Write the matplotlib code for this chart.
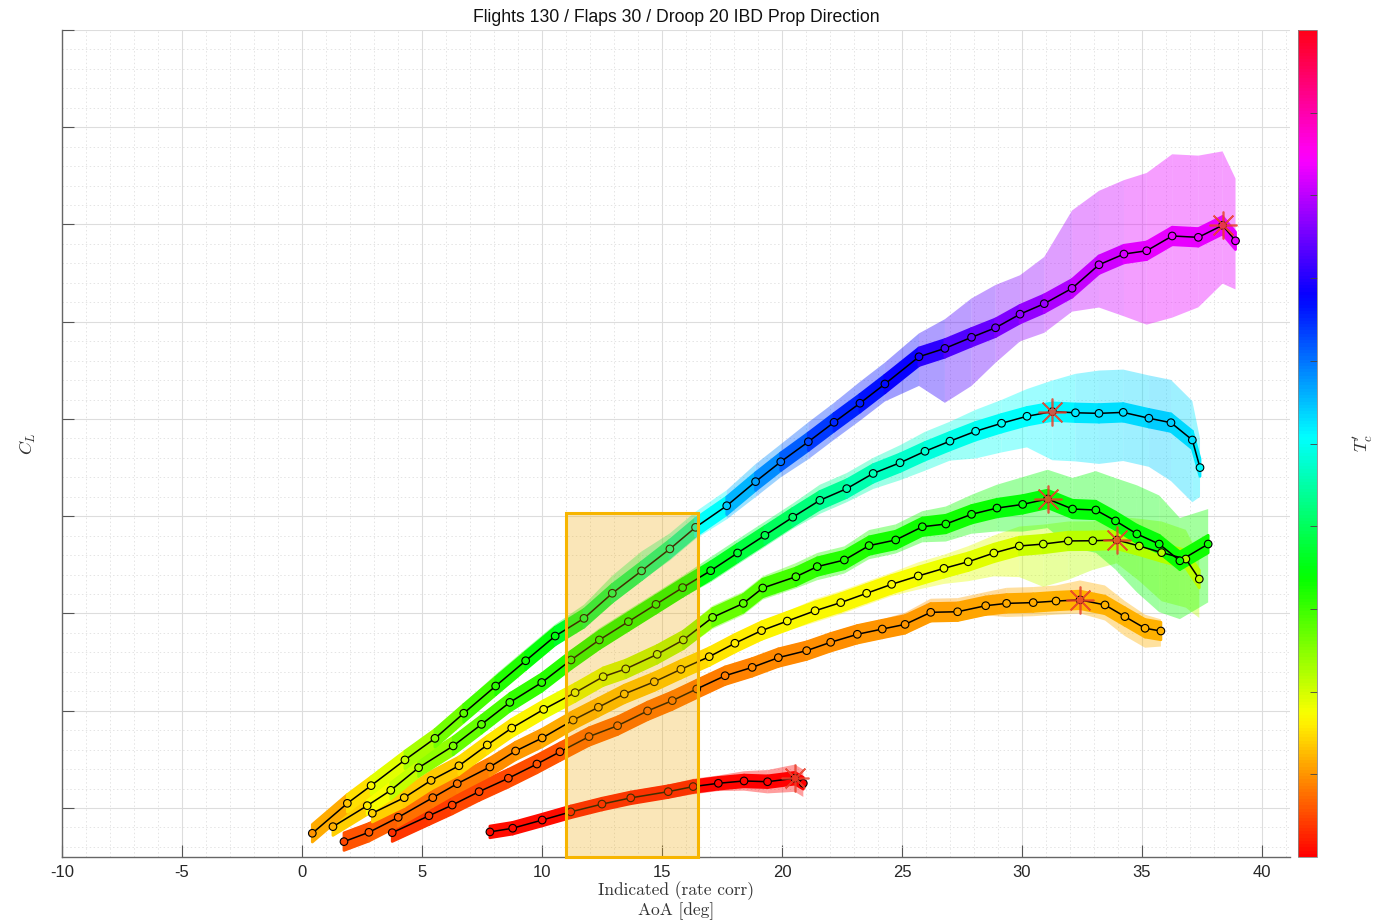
import numpy as np
import matplotlib
matplotlib.use('Agg')
import matplotlib.pyplot as plt
from matplotlib.collections import PolyCollection
from matplotlib.patches import Rectangle
from matplotlib.ticker import MultipleLocator, NullFormatter
from matplotlib.colors import Normalize
from matplotlib.cm import ScalarMappable

plt.rcParams['font.family'] = ['Liberation Sans', 'DejaVu Sans']
plt.rcParams['mathtext.fontset'] = 'cm'
plt.rcParams['axes.unicode_minus'] = False

TITLE = 'Flights 130 / Flaps 30 / Droop 20 IBD Prop Direction'
XLABEL = 'Indicated (rate corr)\nAoA [deg]'
YLABEL = r'$C_L$'
CBLABEL = r"$T_c'$"

# ---------------- data (binned means) ----------------
a_x = [0.43, 1.89, 2.88, 4.29, 5.54, 6.74, 8.07, 9.32, 10.55, 11.75, 12.93, 14.15, 15.33, 16.40,
       17.70, 18.90, 19.95, 21.10, 22.17, 23.25, 24.29, 25.71, 26.79, 27.90, 28.90, 29.92, 30.93,
       32.09, 33.21, 34.25, 35.20, 36.26, 37.35, 38.36, 38.90]
a_y = [0.370, 0.524, 0.615, 0.747, 0.858, 0.987, 1.127, 1.257, 1.384, 1.475, 1.604, 1.719, 1.832, 1.943,
       2.054, 2.178, 2.280, 2.383, 2.483, 2.581, 2.680, 2.820, 2.863, 2.920, 2.969, 3.039, 3.093,
       3.172, 3.293, 3.348, 3.365, 3.441, 3.434, 3.496, 3.416]
a_tc = [0.10, 0.13, 0.17, 0.21, 0.25, 0.28, 0.31, 0.33, 0.35, 0.38, 0.40, 0.42, 0.44, 0.47,
        0.54, 0.57, 0.60, 0.63, 0.65, 0.66, 0.67, 0.69, 0.72, 0.74, 0.75, 0.77, 0.78,
        0.80, 0.81, 0.82, 0.83, 0.83, 0.83, 0.83, 0.83]
a_up = [0.05, 0.05, 0.05, 0.05, 0.05, 0.05, 0.06, 0.06, 0.06, 0.07, 0.09, 0.10, 0.08, 0.08,
        0.08, 0.09, 0.09, 0.10, 0.10, 0.11, 0.11, 0.12, 0.15, 0.20, 0.22, 0.20, 0.24,
        0.40, 0.38, 0.38, 0.40, 0.42, 0.42, 0.38, 0.32]
a_dn = [0.05, 0.05, 0.05, 0.05, 0.05, 0.05, 0.05, 0.05, 0.05, 0.05, 0.05, 0.05, 0.06, 0.06,
        0.07, 0.08, 0.08, 0.09, 0.09, 0.09, 0.09, 0.15, 0.28, 0.25, 0.18, 0.14, 0.15,
        0.12, 0.22, 0.32, 0.38, 0.42, 0.36, 0.30, 0.25]

b_x = [1.29, 2.72, 3.70, 4.86, 6.30, 7.48, 8.66, 9.99, 11.21, 12.39, 13.60, 14.75, 15.86, 17.03,
       18.15, 19.29, 20.45, 21.58, 22.70, 23.80, 24.92, 25.96, 27.00, 28.07, 29.15, 30.21, 31.27,
       32.23, 33.21, 34.22, 35.29, 36.21, 37.10, 37.42]
b_y = [0.404, 0.512, 0.591, 0.707, 0.819, 0.930, 1.043, 1.145, 1.261, 1.364, 1.458, 1.547, 1.633, 1.720,
       1.811, 1.902, 1.995, 2.082, 2.142, 2.220, 2.275, 2.334, 2.386, 2.437, 2.478, 2.514, 2.538,
       2.532, 2.529, 2.534, 2.504, 2.481, 2.392, 2.250]
b_tc = [0.12, 0.16, 0.19, 0.23, 0.26, 0.28, 0.30, 0.31, 0.32, 0.33, 0.33, 0.33, 0.34, 0.35,
        0.37, 0.39, 0.41, 0.43, 0.45, 0.46, 0.47, 0.48, 0.49, 0.50, 0.50, 0.51, 0.51,
        0.52, 0.53, 0.53, 0.54, 0.54, 0.53, 0.51]
b_up = [0.05, 0.05, 0.05, 0.05, 0.05, 0.05, 0.05, 0.05, 0.05, 0.06, 0.06, 0.06, 0.06, 0.07,
        0.07, 0.07, 0.07, 0.08, 0.08, 0.08, 0.09, 0.10, 0.10, 0.11, 0.12, 0.14, 0.16,
        0.20, 0.22, 0.22, 0.22, 0.22, 0.20, 0.15]
b_dn = [0.05, 0.05, 0.05, 0.05, 0.05, 0.05, 0.05, 0.05, 0.05, 0.05, 0.05, 0.05, 0.05, 0.06,
        0.06, 0.06, 0.06, 0.07, 0.07, 0.08, 0.09, 0.10, 0.10, 0.14, 0.15, 0.16, 0.25,
        0.25, 0.26, 0.25, 0.25, 0.30, 0.32, 0.15]

c_x = [2.93, 4.26, 5.38, 6.54, 7.72, 8.74, 10.07, 11.38, 12.55, 13.49, 14.80, 15.89, 17.11, 18.39,
       19.20, 20.58, 21.47, 22.60, 23.63, 24.74, 25.85, 26.83, 27.90, 28.96, 30.03, 31.07, 32.11,
       33.08, 33.90, 34.79, 35.72, 36.58, 37.76]
c_y = [0.473, 0.553, 0.642, 0.717, 0.824, 0.911, 1.007, 1.093, 1.175, 1.215, 1.290, 1.364, 1.480, 1.552,
       1.631, 1.689, 1.741, 1.775, 1.849, 1.878, 1.946, 1.960, 2.010, 2.042, 2.061, 2.089, 2.037,
       2.032, 1.976, 1.909, 1.857, 1.771, 1.857]
c_tc = [0.14, 0.14, 0.13, 0.14, 0.15, 0.16, 0.17, 0.19, 0.20, 0.21, 0.22, 0.23, 0.26, 0.28,
        0.29, 0.30, 0.31, 0.32, 0.32, 0.33, 0.33, 0.33, 0.33, 0.34, 0.34, 0.34, 0.34,
        0.34, 0.34, 0.34, 0.34, 0.33, 0.33]
c_up = [0.05, 0.05, 0.05, 0.05, 0.05, 0.05, 0.05, 0.05, 0.05, 0.05, 0.05, 0.05, 0.06, 0.06,
        0.06, 0.07, 0.07, 0.07, 0.08, 0.08, 0.08, 0.09, 0.10, 0.12, 0.14, 0.15, 0.16,
        0.20, 0.22, 0.25, 0.25, 0.22, 0.18]
c_dn = [0.05, 0.05, 0.05, 0.05, 0.05, 0.05, 0.05, 0.05, 0.05, 0.05, 0.05, 0.05, 0.06, 0.06,
        0.06, 0.06, 0.07, 0.07, 0.07, 0.07, 0.08, 0.09, 0.10, 0.12, 0.14, 0.15, 0.20,
        0.22, 0.25, 0.30, 0.35, 0.30, 0.30]

d_x = [1.75, 2.79, 4.01, 5.45, 6.47, 7.83, 8.90, 10.01, 11.30, 12.35, 13.43, 14.68, 15.79, 16.97,
       18.04, 19.15, 20.22, 21.38, 22.45, 23.53, 24.57, 25.68, 26.75, 27.76, 28.83, 29.89, 30.89,
       31.93, 32.95, 33.95, 34.89, 35.82, 36.83, 37.39]
d_y = [0.327, 0.375, 0.452, 0.553, 0.625, 0.711, 0.793, 0.860, 0.952, 1.018, 1.086, 1.149, 1.213, 1.278,
       1.347, 1.412, 1.461, 1.514, 1.556, 1.604, 1.650, 1.693, 1.732, 1.766, 1.811, 1.847, 1.857,
       1.873, 1.874, 1.878, 1.847, 1.813, 1.780, 1.677]
d_tc = [0.05, 0.06, 0.07, 0.08, 0.08, 0.09, 0.10, 0.11, 0.12, 0.12, 0.13, 0.13, 0.14, 0.15,
        0.16, 0.16, 0.17, 0.17, 0.17, 0.17, 0.17, 0.18, 0.18, 0.19, 0.19, 0.20, 0.21,
        0.21, 0.22, 0.22, 0.22, 0.22, 0.22, 0.21]
d_up = [0.05, 0.05, 0.05, 0.05, 0.05, 0.05, 0.05, 0.05, 0.05, 0.05, 0.05, 0.05, 0.05, 0.05,
        0.05, 0.05, 0.05, 0.06, 0.06, 0.06, 0.06, 0.07, 0.07, 0.08, 0.09, 0.10, 0.10,
        0.10, 0.10, 0.12, 0.14, 0.16, 0.15, 0.12]
d_dn = [0.05, 0.05, 0.05, 0.05, 0.05, 0.05, 0.05, 0.05, 0.05, 0.05, 0.05, 0.05, 0.05, 0.05,
        0.05, 0.05, 0.05, 0.06, 0.06, 0.06, 0.06, 0.07, 0.08, 0.10, 0.12, 0.16, 0.22,
        0.20, 0.15, 0.12, 0.18, 0.25, 0.25, 0.20]

g_x = [3.76, 5.29, 6.26, 7.38, 8.60, 9.79, 10.75, 11.96, 13.15, 14.40, 15.43, 16.45, 17.63, 18.76,
       19.85, 21.03, 22.03, 23.14, 24.18, 25.13, 26.20, 27.32, 28.49, 29.36, 30.47, 31.42, 32.42,
       33.46, 34.29, 35.13, 35.79]
g_y = [0.373, 0.460, 0.515, 0.584, 0.653, 0.726, 0.789, 0.867, 0.923, 0.999, 1.052, 1.112, 1.180, 1.223,
       1.273, 1.309, 1.352, 1.393, 1.420, 1.444, 1.506, 1.509, 1.540, 1.552, 1.556, 1.564, 1.570,
       1.544, 1.484, 1.424, 1.410]
g_tc = [0.035, 0.04, 0.045, 0.05, 0.05, 0.055, 0.06, 0.065, 0.07, 0.07, 0.075, 0.08, 0.085, 0.09,
        0.09, 0.095, 0.095, 0.10, 0.10, 0.10, 0.105, 0.11, 0.11, 0.115, 0.115, 0.12, 0.12,
        0.12, 0.12, 0.12, 0.12]
g_up = [0.05, 0.05, 0.05, 0.05, 0.05, 0.05, 0.05, 0.05, 0.05, 0.05, 0.05, 0.05, 0.05, 0.05,
        0.05, 0.05, 0.05, 0.05, 0.05, 0.06, 0.07, 0.07, 0.07, 0.08, 0.08, 0.08, 0.10,
        0.10, 0.08, 0.07, 0.06]
g_dn = [0.05, 0.05, 0.05, 0.05, 0.05, 0.05, 0.05, 0.05, 0.05, 0.05, 0.05, 0.05, 0.05, 0.05,
        0.05, 0.05, 0.05, 0.05, 0.05, 0.05, 0.05, 0.05, 0.05, 0.07, 0.07, 0.07, 0.07,
        0.08, 0.10, 0.10, 0.08]

f_x = [7.83, 8.78, 10.01, 11.20, 12.50, 13.70, 15.26, 16.30, 17.35, 18.42, 19.40, 20.54, 20.89]
f_y = [0.377, 0.396, 0.438, 0.480, 0.520, 0.552, 0.584, 0.610, 0.627, 0.639, 0.635, 0.653, 0.627]
f_tc = [0.01, 0.01, 0.01, 0.01, 0.01, 0.01, 0.005, 0.005, 0.005, 0.005, 0.0, 0.0, 0.0]
f_up = [0.03, 0.03, 0.035, 0.035, 0.035, 0.035, 0.035, 0.04, 0.04, 0.05, 0.06, 0.07, 0.07]
f_dn = [0.03, 0.03, 0.03, 0.03, 0.03, 0.03, 0.035, 0.04, 0.04, 0.05, 0.06, 0.07, 0.07]

box_x = [11.0, 16.5]
box_top = 2.017

XLIM = (-10, 41.17)
YLIM = (0.248, 4.5)

# ---------------- figure ----------------
W, H = 1391, 924
fig = plt.figure(figsize=(W / 100, H / 100), dpi=100)
ax = fig.add_axes([62 / W, 67 / H, 1228 / W, 827 / H])
cmap = plt.get_cmap('hsv')
norm = Normalize(0, 1)
CORE = 0.045


def band(x, y, up, dn):
    polys = []
    for i in range(len(x) - 1):
        polys.append([(x[i], y[i] + up[i]), (x[i + 1], y[i + 1] + up[i + 1]),
                      (x[i + 1], y[i + 1] - dn[i + 1]), (x[i], y[i] - dn[i])])
    return polys


def draw_curve(x, y, tc, up, dn, core=CORE):
    x = np.asarray(x); y = np.asarray(y); tc = np.asarray(tc)
    up = np.asarray(up); dn = np.asarray(dn)
    seg_c = [cmap(norm(0.5 * (tc[i] + tc[i + 1]))) for i in range(len(x) - 1)]
    outer = PolyCollection(band(x, y, up, dn), facecolors=seg_c, edgecolors='none',
                           alpha=0.38, zorder=2)
    ax.add_collection(outer)
    cu = np.minimum(up, core); cd = np.minimum(dn, core)
    inner = PolyCollection(band(x, y, cu, cd), facecolors=seg_c, edgecolors=seg_c,
                           linewidths=2.0, zorder=3)
    ax.add_collection(inner)
    ax.plot(x, y, color='k', lw=1.1, zorder=4)
    ax.scatter(x, y, c=tc, cmap=cmap, norm=norm, s=30, edgecolors='k', linewidths=0.8, zorder=5)
    k = int(np.argmax(y))
    ax.plot(x[k], y[k], marker=(8, 2, 0), ms=20, mew=1.2, color='#e8402a', alpha=0.85, zorder=6)


draw_curve(f_x, f_y, f_tc, f_up, f_dn, core=0.03)
draw_curve(g_x, g_y, g_tc, g_up, g_dn)
draw_curve(d_x, d_y, d_tc, d_up, d_dn)
draw_curve(c_x, c_y, c_tc, c_up, c_dn)
draw_curve(b_x, b_y, b_tc, b_up, b_dn)
draw_curve(a_x, a_y, a_tc, a_up, a_dn)

# highlight box
ax.add_patch(Rectangle((box_x[0], YLIM[0]), box_x[1] - box_x[0], box_top - YLIM[0],
                       facecolor='#f0a800', edgecolor='none', alpha=0.28, zorder=10))
ax.add_patch(Rectangle((box_x[0], YLIM[0]), box_x[1] - box_x[0], box_top - YLIM[0],
                       fill=False, edgecolor='#f7b500', lw=2.2, zorder=11, clip_on=False))

ax.set_xlim(*XLIM)
ax.set_ylim(*YLIM)
ax.xaxis.set_major_locator(MultipleLocator(5))
ax.xaxis.set_minor_locator(MultipleLocator(1))
ax.yaxis.set_major_locator(MultipleLocator(0.5))
ax.yaxis.set_minor_locator(MultipleLocator(0.1))
ax.yaxis.set_major_formatter(NullFormatter())
ax.set_axisbelow(True)
ax.grid(which='major', color='#dddddd', lw=0.8, ls='-')
ax.grid(which='minor', color='#e4e4e4', lw=0.7, ls=(0, (1.5, 2.5)))
ax.tick_params(which='major', direction='in', length=8.5, width=0.8, color='#555555',
               labelsize=12, labelcolor='#262626', pad=6, top=False, right=False)
ax.tick_params(which='minor', length=0)
for s in ('top', 'right'):
    ax.spines[s].set_visible(False)
for s in ('left', 'bottom'):
    ax.spines[s].set_color('#666666')
    ax.spines[s].set_linewidth(1.0)

ax.set_title(TITLE, fontsize=12.7, pad=6, color='#111111')
ax.set_xlabel(XLABEL, fontfamily='cmr10', fontsize=12.5, color='#333333', labelpad=1,
              linespacing=1.15)
ax.set_ylabel(YLABEL, fontsize=13, color='#333333', labelpad=11)

cax = fig.add_axes([1298 / W, 67 / H, 19 / W, 827 / H])
cb = fig.colorbar(ScalarMappable(norm=norm, cmap=cmap), cax=cax)
cb.set_ticks(np.arange(0.1, 0.95, 0.1))
cb.ax.set_yticklabels([])
cb.ax.tick_params(direction='in', length=5, width=0.6, color='#444444')
cb.outline.set_edgecolor('#888888')
cb.outline.set_linewidth(0.6)
cb.set_label(CBLABEL, fontsize=13, color='#333333', labelpad=21)

fig.savefig('out.png', dpi=100)
